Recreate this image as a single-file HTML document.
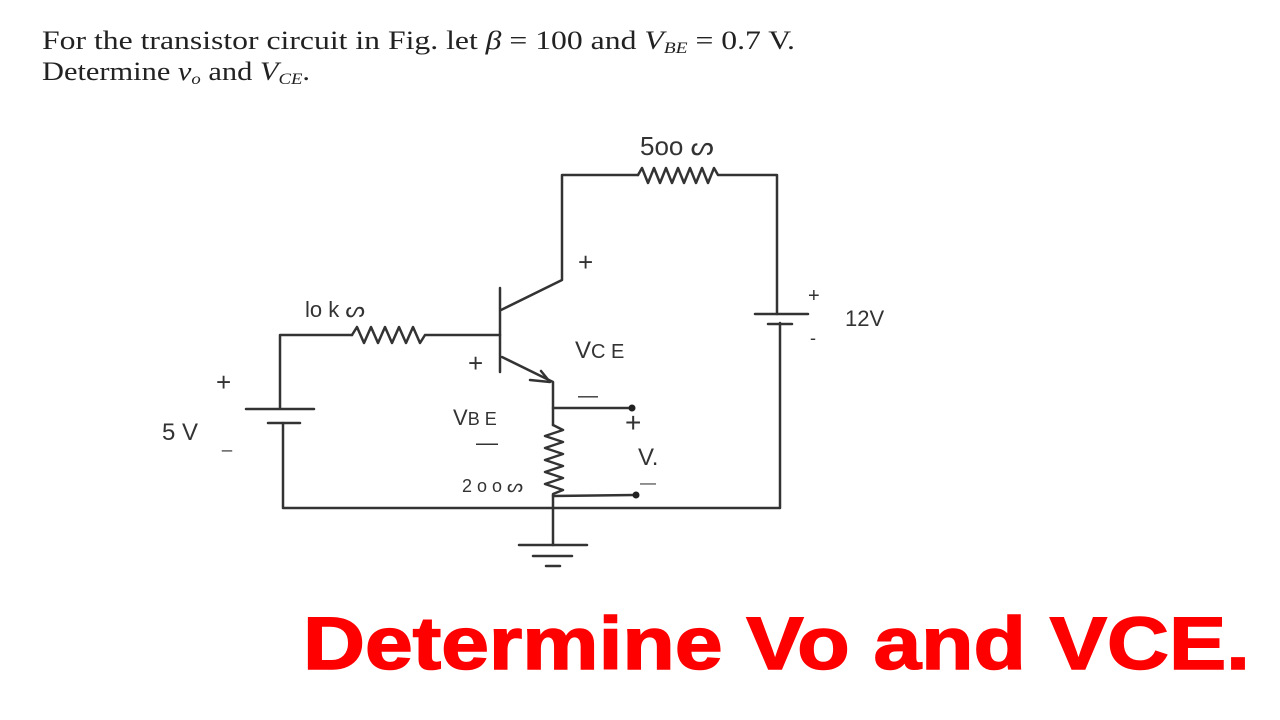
<!DOCTYPE html>
<html><head><meta charset="utf-8"><style>
html,body{margin:0;padding:0;background:#fff;}
svg{display:block}
</style></head><body>
<svg width="1280" height="720" viewBox="0 0 1280 720" xmlns="http://www.w3.org/2000/svg">
<rect width="1280" height="720" fill="#fff"/>
<g font-family="Liberation Serif, serif" fill="#222">
<text x="42" y="49" font-size="26" textLength="753" lengthAdjust="spacingAndGlyphs">For the transistor circuit in Fig. let <tspan font-style="italic">β</tspan> = 100 and <tspan font-style="italic">V</tspan><tspan font-size="16" font-style="italic" dy="4">BE</tspan><tspan dy="-4"> = 0.7 V.</tspan></text>
<text x="42" y="80" font-size="26" textLength="268" lengthAdjust="spacingAndGlyphs">Determine <tspan font-style="italic">v</tspan><tspan font-size="16" font-style="italic" dy="4">o</tspan><tspan dy="-4"> and </tspan><tspan font-style="italic">V</tspan><tspan font-size="16" font-style="italic" dy="4">CE</tspan><tspan dy="-4">.</tspan></text>
</g>
<g stroke="#333" stroke-width="2.5" fill="none" stroke-linecap="round" stroke-linejoin="round">
<polyline points="280,408 280,335 352,335"/>
<polyline points="352,335 357,327 364,343 371,327 378,343 385,327 392,343 399,327 406,343 413,327 420,343 425,335 500,335"/>
<line x1="246" y1="409" x2="314" y2="409"/>
<line x1="268" y1="423" x2="300" y2="423"/>
<polyline points="283,423 283,508 780,508 780,323"/>
<line x1="500" y1="288" x2="500" y2="372"/>
<polyline points="501,310 562,280 562,175 638,175"/>
<polyline points="638,175 642,168 648,183 654,168 660,183 666,168 672,183 678,168 684,183 690,168 696,183 702,168 708,183 714,168 718,175 777,175 777,314"/>
<line x1="755" y1="314" x2="808" y2="314"/>
<line x1="768" y1="324" x2="792" y2="324"/>
<polyline points="502,357 553,382 553,425"/>
<polyline points="530,380 550,382 541,371"/>
<polyline points="553,425 563,430 545,436 563,442 545,448 563,454 545,460 563,466 545,472 563,478 545,484 563,490 553,494 553,545"/>
<line x1="553" y1="408" x2="630" y2="408"/>
<line x1="553" y1="496" x2="634" y2="495"/>
<line x1="519" y1="545" x2="587" y2="545"/>
<line x1="533" y1="556" x2="572" y2="556"/>
<line x1="546" y1="566" x2="560" y2="566"/>
</g>
<circle cx="632" cy="408" r="3.5" fill="#222"/>
<circle cx="636" cy="495" r="3.5" fill="#222"/>
<g font-family="Liberation Sans, sans-serif" fill="#333" font-size="24">
<text x="640" y="155" font-size="26">5oo ᔕ</text>
<text x="305" y="317" font-size="22">lo k ᔕ</text>
<text x="578" y="271" font-size="26">+</text>
<text x="575" y="358" font-size="24">V<tspan font-size="20">C E</tspan></text>
<text x="468" y="372" font-size="26">+</text>
<text x="453" y="425" font-size="22">V<tspan font-size="18">B E</tspan></text>
<text x="476" y="450" font-size="22">—</text>
<text x="578" y="402" font-size="20">—</text>
<text x="462" y="492" font-size="18">2 o o ᔕ</text>
<text x="625" y="432" font-size="28">+</text>
<text x="638" y="465" font-size="24">V.</text>
<text x="640" y="488" font-size="16">—</text>
<text x="216" y="391" font-size="26">+</text>
<text x="162" y="440" font-size="24">5 V</text>
<text x="222" y="448" font-size="18">_</text>
<text x="808" y="302" font-size="20">+</text>
<text x="810" y="344" font-size="18">-</text>
<text x="845" y="326" font-size="22">12V</text>
</g>
<text x="303" y="669" font-family="Liberation Sans, sans-serif" font-weight="bold" font-size="74" fill="#ff0000" stroke="#ff0000" stroke-width="1.5" textLength="947" lengthAdjust="spacingAndGlyphs">Determine Vo and VCE.</text>
</svg>
</body></html>
